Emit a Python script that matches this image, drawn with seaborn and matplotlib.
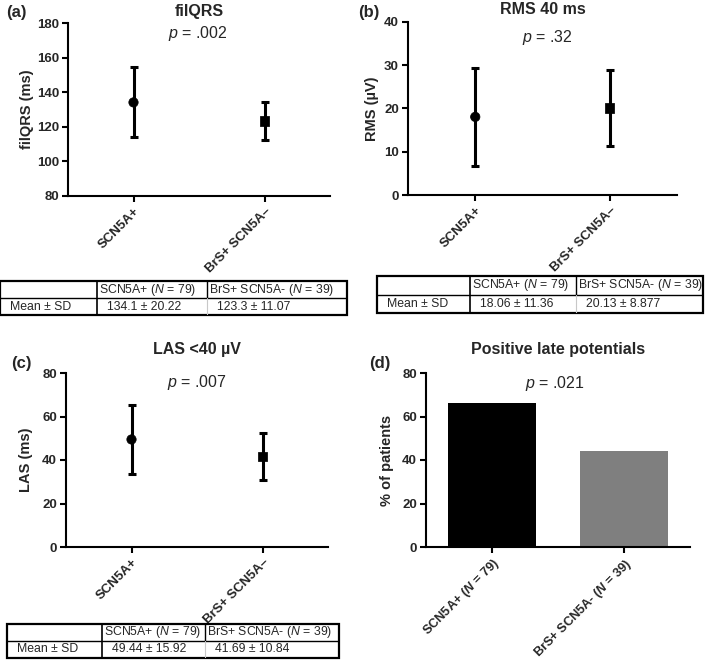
import numpy as np
import pandas as pd
import matplotlib
matplotlib.use("Agg")
import matplotlib.pyplot as plt
import seaborn as sns

# ---------------------------------------------------------
#  datos
# ---------------------------------------------------------
groups      = ["SCN5A+", "BrS+ SCN5A\u2013"]
groups_n    = [r"SCN5A+ ($\mathbfit{N}$ = 79)", r"BrS+ SCN5A- ($\mathbfit{N}$ = 39)"]
table_head  = [r"SCN5A+ ($\mathit{N}$ = 79)", r"BrS+ SCN5A- ($\mathit{N}$ = 39)"]

filqrs_mean = [134.1, 123.3]
filqrs_sd   = [20.22, 11.07]
filqrs_txt  = ["134.1 \u00b1 20.22", "123.3 \u00b1 11.07"]

rms_mean    = [18.06, 20.13]
rms_sd      = [11.36, 8.877]
rms_txt     = ["18.06 \u00b1 11.36", "20.13 \u00b1 8.877"]

las_mean    = [49.44, 41.69]
las_sd      = [15.92, 10.84]
las_txt     = ["49.44 \u00b1 15.92", "41.69 \u00b1 10.84"]

lp_pct      = [66.0, 44.0]

W, H = 709, 660

sns.set_theme(style="ticks")
plt.rcParams["font.family"] = ["Liberation Sans", "DejaVu Sans"]
plt.rcParams["mathtext.fontset"] = "custom"
plt.rcParams["mathtext.rm"] = "Liberation Sans"
plt.rcParams["mathtext.it"] = "Liberation Sans:italic"
plt.rcParams["mathtext.bf"] = "Liberation Sans:bold"
plt.rcParams["mathtext.bfit"] = "Liberation Sans:italic:bold"

fig = plt.figure(figsize=(W / 100, H / 100), dpi=100)


def px_rect(x0, y0, x1, y1):
    return [x0 / W, 1 - y1 / H, (x1 - x0) / W, (y1 - y0) / H]


def style_axis(ax, ylim, yticks, ylabel, label_x, xsize=9.5):
    ax.set_ylim(*ylim)
    ax.set_yticks(yticks)
    ax.set_xlim(-0.5, 1.5)
    sns.despine(ax=ax)
    for s in ["left", "bottom"]:
        ax.spines[s].set_linewidth(1.5)
        ax.spines[s].set_color("black")
    ax.tick_params(axis="both", width=1.5, length=4, color="black")
    ax.tick_params(axis="y", labelsize=9.5, pad=2.5)
    ax.tick_params(axis="x", labelsize=xsize, pad=2.5)
    for t in ax.get_yticklabels() + ax.get_xticklabels():
        t.set_fontweight("bold")
    for t in ax.get_xticklabels():
        t.set_rotation(45)
        t.set_ha("right")
        t.set_rotation_mode("anchor")
    ax.set_xlabel("")
    ax.set_ylabel(ylabel, fontsize=10.5, fontweight="bold")
    ax.yaxis.set_label_coords(label_x, 0.5)


def mean_sd_panel(ax, means, sds, title, pad, ptext, px, py):
    df = pd.DataFrame({"grupo": groups, "media": means})
    ax.errorbar(groups, means, yerr=sds, fmt="none", ecolor="black",
                elinewidth=2.2, capsize=3, capthick=2.2, zorder=2)
    sns.scatterplot(data=df, x="grupo", y="media", style="grupo",
                    markers=["o", "s"], s=45, color="black",
                    edgecolor="black", legend=False, ax=ax, zorder=3)
    ax.set_title(title, fontsize=11.5, fontweight="bold", pad=pad)
    ax.text(px, py, ptext, transform=ax.transAxes, ha="center", va="center",
            fontsize=11.5)


def draw_table(rect, cols, values):
    x0, y0, x1, y1 = rect
    tax = fig.add_axes(px_rect(x0, y0, x1, y1))
    tax.set_xlim(x0, x1)
    tax.set_ylim(y1, y0)
    tax.axis("off")
    ym = (y0 + y1) / 2
    tax.add_patch(plt.Rectangle((x0, y0), x1 - x0, y1 - y0, fill=False,
                                lw=1.6, ec="black", clip_on=False))
    tax.plot([x0, x1], [ym, ym], color="black", lw=1.0)
    tax.plot([cols[0], cols[0]], [y0, y1], color="black", lw=1.2)
    tax.plot([cols[1], cols[1]], [y0, ym], color="black", lw=1.0)
    tax.plot([cols[1], cols[1]], [ym, y1], color="#c8c8c8", lw=0.8)
    r1 = (y0 + ym) / 2
    r2 = (ym + y1) / 2
    fs = 8.8
    tax.text(cols[0] + 2, r1, table_head[0], fontsize=fs, va="center")
    tax.text(cols[1] + 2, r1, table_head[1], fontsize=fs, va="center")
    tax.text(x0 + 10, r2, "Mean \u00b1 SD", fontsize=fs, va="center")
    tax.text(cols[0] + 10, r2, values[0], fontsize=fs, va="center")
    tax.text(cols[1] + 10, r2, values[1], fontsize=fs, va="center")


# ---------------------------------------------------------
#  (a) filQRS
# ---------------------------------------------------------
ax_a = fig.add_axes(px_rect(68, 23, 330, 196))
mean_sd_panel(ax_a, filqrs_mean, filqrs_sd, "filQRS", 5,
              r"$p$ = .002", 0.496, 0.94)
style_axis(ax_a, (80, 180), [80, 100, 120, 140, 160, 180],
           "filQRS (ms)", -0.13)
draw_table((0, 281, 347, 315), (97, 207), filqrs_txt)

# ---------------------------------------------------------
#  (b) RMS 40 ms
# ---------------------------------------------------------
ax_b = fig.add_axes(px_rect(408, 22, 677, 195))
mean_sd_panel(ax_b, rms_mean, rms_sd, "RMS 40 ms", 6,
              r"$p$ = .32", 0.517, 0.913)
style_axis(ax_b, (0, 40), [0, 10, 20, 30, 40],
           "RMS (\u00b5V)", -0.108)
draw_table((377, 276, 703, 313), (470, 576), rms_txt)

# ---------------------------------------------------------
#  (c) LAS <40 uV
# ---------------------------------------------------------
ax_c = fig.add_axes(px_rect(66, 373, 328, 547))
mean_sd_panel(ax_c, las_mean, las_sd, "LAS <40 \u00b5V", 14,
              r"$p$ = .007", 0.5, 0.948)
style_axis(ax_c, (0, 80), [0, 20, 40, 60, 80],
           "LAS (ms)", -0.126)
draw_table((7, 624, 339, 658), (102, 205), las_txt)

# ---------------------------------------------------------
#  (d) potenciales tardios positivos
# ---------------------------------------------------------
ax_d = fig.add_axes(px_rect(426, 373, 690, 547))
df_lp = pd.DataFrame({"grupo": groups_n, "pct": lp_pct})
sns.barplot(data=df_lp, x="grupo", y="pct", hue="grupo",
            palette=["#000000", "#7f7f7f"], width=0.67, legend=False,
            edgecolor="none", ax=ax_d)
ax_d.set_title("Positive late potentials", fontsize=11.5,
               fontweight="bold", pad=14)
ax_d.text(0.49, 0.94, r"$p$ = .021", transform=ax_d.transAxes,
          ha="center", va="center", fontsize=11.5)
style_axis(ax_d, (0, 80), [0, 20, 40, 60, 80],
           "% of patients", -0.121, xsize=9.2)

# letras de panel
for lbl, (x, y) in zip(["(a)", "(b)", "(c)", "(d)"],
                       [(16, 12), (369, 12), (21, 363), (380, 363)]):
    fig.text(x / W, 1 - y / H, lbl, fontsize=12, fontweight="bold",
             ha="center", va="center")

fig.savefig("out.png", dpi=100)
